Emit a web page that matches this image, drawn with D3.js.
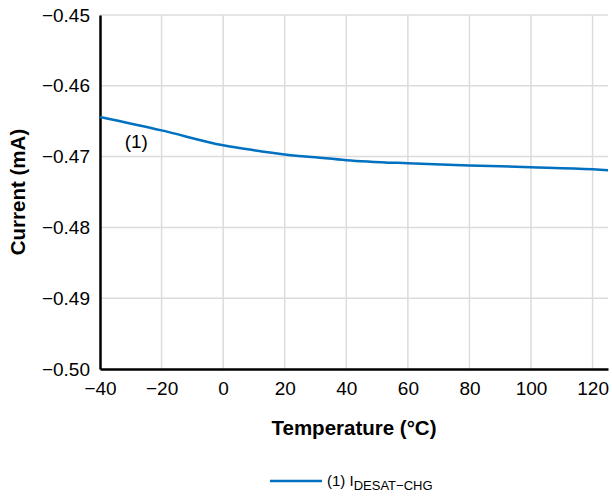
<!DOCTYPE html>
<html>
<head>
<meta charset="utf-8">
<script src="https://cdn.jsdelivr.net/npm/d3@7"></script>
<style>
  body { margin: 0; background: #fff; }
  text { font-family: "Liberation Sans", Arial, sans-serif; }
</style>
</head>
<body>
<svg id="chart" width="612" height="498"></svg>
<script>
const temps = [-40, -20, 0, 10, 20, 30, 40, 60, 80, 100, 120, 125];
const current = [-0.4644, -0.4663, -0.4684, -0.4691, -0.4697, -0.4701, -0.4705, -0.47095, -0.47125, -0.4715, -0.4718, -0.47192];
const xTicks = [-40, -20, 0, 20, 40, 60, 80, 100, 120];
const yTicks = [-0.50, -0.49, -0.48, -0.47, -0.46, -0.45];

const margin = { top: 15, right: 4, bottom: 129, left: 100 };
const width = 612 - margin.left - margin.right;
const height = 498 - margin.top - margin.bottom;

const svg = d3.select("#chart");
const g = svg.append("g").attr("transform", `translate(${margin.left},${margin.top})`);

const x = d3.scaleLinear().domain([-40, 125]).range([0, width]);
const y = d3.scaleLinear().domain([-0.50, -0.45]).range([height, 0]);

// grid
g.selectAll(".vgrid").data(xTicks.slice(1)).enter().append("line")
    .attr("x1", d => x(d)).attr("x2", d => x(d))
    .attr("y1", 0).attr("y2", height)
    .attr("stroke", "#dcdcdc").attr("stroke-width", 1.5);
g.selectAll(".hgrid").data(yTicks.slice(1)).enter().append("line")
    .attr("x1", 0).attr("x2", width)
    .attr("y1", d => y(d)).attr("y2", d => y(d))
    .attr("stroke", "#dcdcdc").attr("stroke-width", 1.5);

// axes
const xAxis = g.append("g")
    .attr("transform", `translate(0,${height})`)
    .call(d3.axisBottom(x).tickValues(xTicks).tickSize(0).tickPadding(13).tickFormat(d3.format("d")));
const yAxis = g.append("g")
    .call(d3.axisLeft(y).tickValues(yTicks).tickSize(0).tickPadding(10).tickFormat(d3.format(".2f")));

[xAxis, yAxis].forEach(a => {
    a.select(".domain").attr("stroke", "#000").attr("stroke-width", 2.5);
    a.selectAll("text").attr("font-size", 19).attr("fill", "#000")
        .style("font-family", '"Liberation Sans", Arial, sans-serif');
});

// line
const line = d3.line()
    .x((d, i) => x(temps[i]))
    .y(d => y(d))
    .curve(d3.curveMonotoneX);

g.append("path")
    .datum(current)
    .attr("fill", "none")
    .attr("stroke", "#0070c0")
    .attr("stroke-width", 2.5)
    .attr("d", line);

// annotation
g.append("text")
    .attr("x", x(-32))
    .attr("y", y(-0.4688))
    .attr("font-size", 19)
    .text("(1)");

// axis titles
svg.append("text")
    .attr("x", margin.left + width / 2)
    .attr("y", 435)
    .attr("text-anchor", "middle")
    .attr("font-size", 20.5)
    .attr("font-weight", "bold")
    .text("Temperature (°C)");

svg.append("text")
    .attr("transform", `translate(25,${margin.top + height / 2}) rotate(-90)`)
    .attr("text-anchor", "middle")
    .attr("font-size", 20.5)
    .attr("font-weight", "bold")
    .text("Current (mA)");

// legend
const lg = svg.append("g").attr("transform", "translate(270,481)");
lg.append("line").attr("x1", 0).attr("x2", 52).attr("y1", 0).attr("y2", 0)
    .attr("stroke", "#0070c0").attr("stroke-width", 2.5);
const lt = lg.append("text").attr("x", 57).attr("y", 5).attr("font-size", 15);
lt.append("tspan").text("(1) I");
lt.append("tspan").attr("dy", 4).attr("font-size", 13).text("DESAT−CHG");
</script>
</body>
</html>
